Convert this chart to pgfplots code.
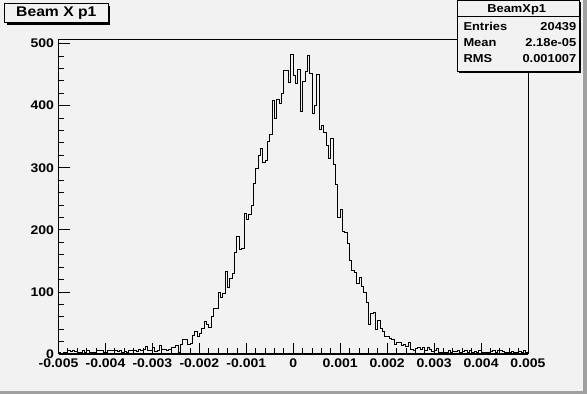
\documentclass[border=0pt]{standalone}
\usepackage{pgfplots}
\pgfplotsset{compat=1.18}
\usepackage{pgfplotstable}
\usepackage{fontspec}
\setmainfont[FakeStretch=1.12]{Liberation Sans}
\definecolor{bg}{RGB}{242,242,242}
\definecolor{bd}{RGB}{160,160,160}

% bin contents, 200 bins of width 5e-5 from -0.005 to 0.005 (last row repeats last bin)
\pgfplotstableread{
c
2
1
2
2
5
4
5
4
3
3
6
2
6
3
2
3
5
5
6
2
3
5
6
5
6
4
5
3
4
3
5
6
5
4
7
6
8
12
5
6
10
4
5
13
8
8
6
8
10
11
13
3
16
24
24
15
17
30
36
28
33
41
52
48
43
60
73
73
99
91
97
133
107
121
130
163
189
169
170
226
216
225
240
275
299
320
331
309
312
343
354
409
380
410
403
420
457
457
437
483
448
435
458
390
439
455
480
452
388
400
450
362
368
357
336
315
347
305
273
220
233
197
195
178
150
135
132
114
124
108
99
83
48
65
67
40
54
41
36
28
29
25
23
16
18
19
14
16
12
18
8
6
9
11
8
10
5
10
8
4
5
9
3
3
3
2
5
3
4
4
5
3
4
6
3
5
2
4
3
6
2
3
2
3
4
5
2
6
6
4
2
3
3
4
2
3
4
3
5
2
2
}\histdata

\begin{document}
\begin{tikzpicture}[x=1pt,y=1pt]
\fill[bg] (0,0) rectangle (587,394);
\fill[bd] (583,0) rectangle (587,394);
\fill[bd] (0,0) rectangle (587,3);
\useasboundingbox (0,0) rectangle (587,394);
\begin{axis}[
  at={(58.5pt,40pt)}, anchor=south west,
  scale only axis, width=469.5pt, height=314.7pt,
  xmin=-0.005, xmax=0.005, ymin=0, ymax=506.8,
  axis line style={line width=1pt},
  xtick={-0.005,-0.004,-0.003,-0.002,-0.001,0,0.001,0.002,0.003,0.004,0.005},
  xticklabels={{\textbf{-0.005}},{\textbf{-0.004}},{\textbf{-0.003}},{\textbf{-0.002}},{\textbf{-0.001}},{\textbf{0}},{\textbf{0.001}},{\textbf{0.002}},{\textbf{0.003}},{\textbf{0.004}},{\textbf{0.005}}},
  ytick={0,100,200,300,400,500},
  yticklabels={{\textbf{0}},{\textbf{100}},{\textbf{200}},{\textbf{300}},{\textbf{400}},{\textbf{500}}},
  minor x tick num=4, minor y tick num=4,
  xtick pos=left, ytick pos=left,
  tick align=inside,
  major tick length=11pt, minor tick length=5.5pt,
  tick style={black, line width=0.8pt},
  ticklabel style={font=\fontsize{12.5}{14}\selectfont\bfseries},
  xticklabel style={yshift=-1pt},
  yticklabel style={xshift=-1pt},
  scaled ticks=false,
  clip=true,
]
\addplot[const plot, black, line width=0.9pt] table[x expr={-0.005+\coordindex*0.00005}, y=c] {\histdata};
\end{axis}
\draw[line width=2pt] (58.5,40) -- (528,40);
% title box
\fill[black] (6.7,394-24.7) rectangle (110,394-6);
\draw[line width=1pt, fill=bg] (4.7,394-22.7) rectangle (108,394-4);
\node[font=\fontsize{14}{16}\selectfont\bfseries] at (56.3,394-13.4) {Beam X p1};
% stats box
\fill[black] (459,394-73.5) rectangle (581,394-2.5);
\draw[line width=1pt, fill=bg] (457,394-71.5) rectangle (579,394-0.5);
\draw[line width=1pt] (457,394-16.7) -- (579,394-16.7);
\begin{scope}[every node/.style={font=\fontsize{11.5}{13}\selectfont\bfseries, inner sep=0pt}]
\node[anchor=base] at (516.7,394-13.0) {BeamXp1};
\node[anchor=base west] at (463.3,394-31) {Entries};
\node[anchor=base east] at (576.5,394-31) {20439};
\node[anchor=base west] at (463.3,394-46.7) {Mean};
\node[anchor=base east] at (576.5,394-46.7) {2.18e-05};
\node[anchor=base west] at (463.3,394-62.5) {RMS};
\node[anchor=base east] at (576.5,394-62.5) {0.001007};
\end{scope}
\end{tikzpicture}
\end{document}
